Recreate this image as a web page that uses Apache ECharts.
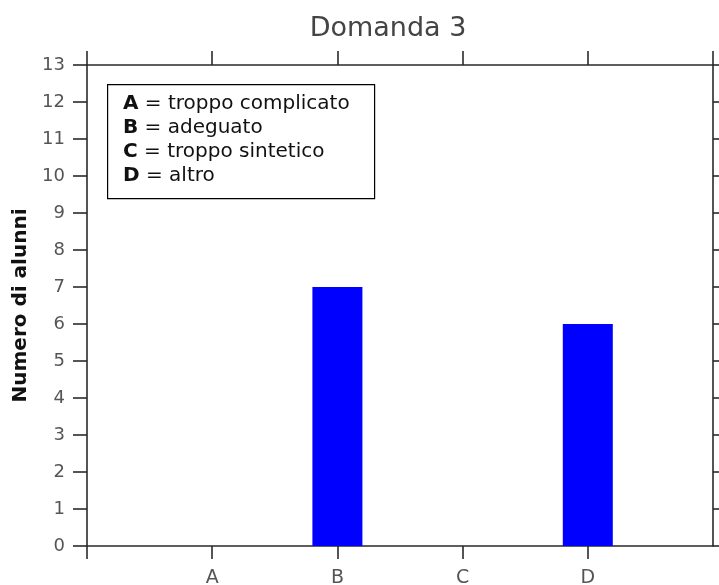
<!DOCTYPE html>
<html>
<head>
<meta charset="utf-8">
<script src="https://cdn.jsdelivr.net/npm/echarts@6/dist/echarts.min.js"></script>
<style>
html,body{margin:0;padding:0;background:#fff;}
#chart{width:719px;height:585px;}
</style>
</head>
<body>
<div id="chart"></div>
<script>
var categories = ['A', 'B', 'C', 'D'];
var positions = [1, 2, 3, 4];
var values = [0, 7, 0, 6];
var bottomTicks = [0, 1, 2, 3, 4];
var legendKeys = ['A', 'B', 'C', 'D'];
var legendTexts = ['troppo complicato', 'adeguato', 'troppo sintetico', 'altro'];

var FONT = 'DejaVu Sans';
var chart = echarts.init(document.getElementById('chart'));
var data = positions.map(function (p, i) { return [p, values[i]]; });
var legendLines = legendKeys.map(function (k, i) {
  return '{b|' + k + '}{n| = ' + legendTexts[i] + '}';
}).join('\n');

var lineSt = { color: '#2a2a2a', width: 1.6 };

chart.setOption({
  animation: false,
  backgroundColor: '#fff',
  title: {
    text: 'Domanda 3',
    left: 383, top: 10, textAlign: 'center',
    textStyle: { fontFamily: FONT, fontSize: 27, fontWeight: 'normal', color: '#444' }
  },
  grid: { left: 87, right: 6, top: 65, bottom: 39, containLabel: false, outerBoundsMode: 'none' },
  xAxis: [{
    type: 'value', min: 0, max: 5, interval: 1, position: 'bottom',
    axisLine: { show: true, onZero: false, lineStyle: lineSt },
    axisTick: { show: true, length: 13, lineStyle: lineSt, customValues: bottomTicks },
    splitLine: { show: false },
    axisLabel: {
      margin: 23, fontFamily: FONT, fontSize: 19, color: '#555',
      formatter: function (v) { var i = positions.indexOf(v); return i >= 0 ? categories[i] : ''; }
    }
  }, {
    type: 'value', min: 0, max: 5, interval: 1, position: 'top',
    axisLine: { show: true, onZero: false, lineStyle: lineSt },
    axisTick: { show: true, length: 14, lineStyle: lineSt },
    splitLine: { show: false }, axisLabel: { show: false }
  }],
  yAxis: [{
    type: 'value', min: 0, max: 13, interval: 1, position: 'left',
    name: 'Numero di alunni', nameLocation: 'middle', nameGap: 55,
    nameTextStyle: { fontFamily: FONT, fontSize: 20, fontWeight: 'bold', color: '#111' },
    axisLine: { show: true, onZero: false, lineStyle: lineSt },
    axisTick: { show: true, length: 14, lineStyle: lineSt },
    splitLine: { show: false },
    axisLabel: { margin: 22, fontFamily: FONT, fontSize: 18, color: '#555' }
  }, {
    type: 'value', min: 0, max: 13, interval: 1, position: 'right',
    axisLine: { show: true, onZero: false, lineStyle: lineSt },
    axisTick: { show: true, length: 14, lineStyle: lineSt },
    splitLine: { show: false }, axisLabel: { show: false }
  }],
  series: [{
    type: 'bar', xAxisIndex: 0, yAxisIndex: 0,
    barWidth: 50,
    itemStyle: { color: '#0000ff' },
    data: data
  }],
  graphic: [{
    type: 'rect', left: 107, top: 84,
    shape: { width: 267, height: 114 },
    style: { fill: '#fff', stroke: '#000', lineWidth: 1.2 }, z: 10
  }, {
    type: 'text', left: 123, top: 92, z: 11,
    style: {
      text: legendLines,
      fontFamily: FONT, fontSize: 20, lineHeight: 24, fill: '#111',
      rich: {
        b: { fontFamily: FONT, fontSize: 20, fontWeight: 'bold', lineHeight: 24, fill: '#111' },
        n: { fontFamily: FONT, fontSize: 20, lineHeight: 24, fill: '#111' }
      }
    }
  }]
});
</script>
</body>
</html>
